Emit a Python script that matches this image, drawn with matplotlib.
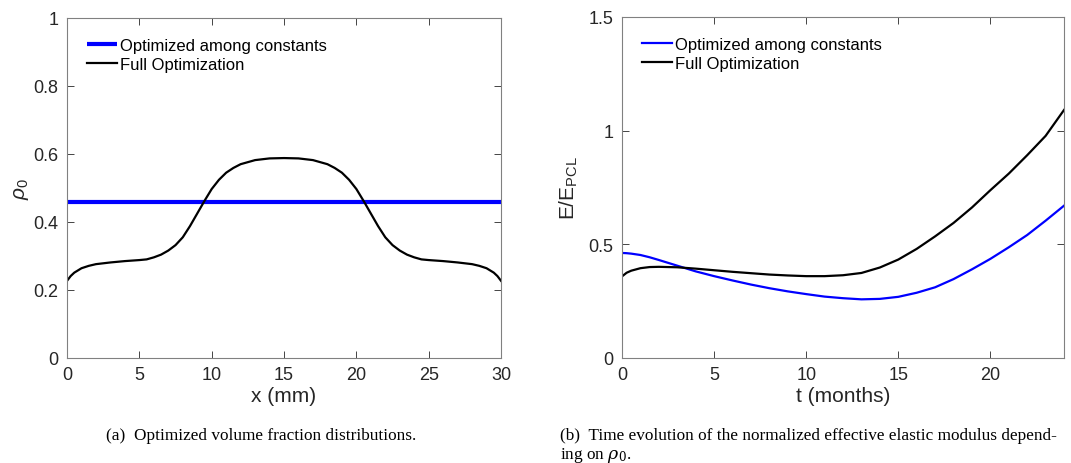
import numpy as np
import matplotlib.pyplot as plt

plt.rcParams['font.family'] = ['Liberation Sans', 'DejaVu Sans']
plt.rcParams['mathtext.fontset'] = 'custom'
plt.rcParams['mathtext.rm'] = 'Liberation Sans'
plt.rcParams['mathtext.it'] = 'Liberation Sans:italic'

# (a) volume fraction rho_0 along x (mm)
x_mm = [0, 0.25, 0.5, 1, 1.5, 2, 3, 4, 5, 5.5, 6, 6.5, 7, 7.5, 8, 8.5, 9, 9.5,
        10, 10.5, 11, 11.5, 12, 13, 14, 15, 16, 17, 18, 18.5, 19, 19.5, 20,
        20.5, 21, 21.5, 22, 22.5, 23, 23.5, 24, 24.5, 25, 26, 27, 28, 28.5,
        29, 29.5, 29.75, 30]
rho_full = [0.227, 0.241, 0.251, 0.264, 0.271, 0.276, 0.281, 0.285, 0.288,
            0.290, 0.296, 0.304, 0.316, 0.332, 0.355, 0.388, 0.425, 0.462,
            0.497, 0.524, 0.545, 0.559, 0.570, 0.582, 0.587, 0.588, 0.587,
            0.582, 0.570, 0.559, 0.545, 0.524, 0.497, 0.462, 0.425, 0.388,
            0.355, 0.332, 0.316, 0.304, 0.296, 0.290, 0.288, 0.285, 0.281,
            0.276, 0.271, 0.264, 0.251, 0.241, 0.227]
rho_const = 0.460

# (b) normalized elastic modulus over time (months)
t_months = [0, 0.25, 0.5, 1, 1.5, 2, 3, 4, 5, 6, 7, 8, 9, 10, 11, 12, 13, 14,
            15, 16, 17, 18, 19, 20, 21, 22, 23, 24]
E_const = [0.462, 0.461, 0.459, 0.453, 0.443, 0.431, 0.406, 0.381, 0.360,
           0.341, 0.323, 0.307, 0.293, 0.281, 0.270, 0.263, 0.258, 0.260,
           0.269, 0.287, 0.311, 0.347, 0.390, 0.436, 0.487, 0.541, 0.604, 0.670]
E_full = [0.359, 0.375, 0.384, 0.395, 0.400, 0.401, 0.399, 0.393, 0.386,
          0.379, 0.373, 0.367, 0.363, 0.360, 0.360, 0.364, 0.374, 0.398,
          0.433, 0.480, 0.535, 0.594, 0.662, 0.738, 0.811, 0.892, 0.977, 1.091]

AX_C = '#262626'


def style(ax):
    ax.tick_params(direction='in', top=True, right=True, labelsize=13,
                   colors=AX_C, length=5, width=0.6, pad=6)
    for s in ax.spines.values():
        s.set_color('#808080')
        s.set_linewidth(0.8)


fig = plt.figure(figsize=(10.71, 4.64), dpi=100)

ax1 = fig.add_axes([0.0626, 0.2263, 0.4052, 0.7328])
ax1.plot(x_mm, [rho_const] * len(x_mm), color='#0000ff', lw=3,
         label='Optimized among constants', solid_capstyle='butt')
ax1.plot(x_mm, rho_full, color='k', lw=1.6, label='Full Optimization')
ax1.set_xlim(0, 30)
ax1.set_ylim(0, 1)
ax1.set_xticks([0, 5, 10, 15, 20, 25, 30])
ax1.set_yticks([0, 0.2, 0.4, 0.6, 0.8, 1])
ax1.set_yticklabels(['0', '0.2', '0.4', '0.6', '0.8', '1'])
ax1.set_xlabel('x (mm)', fontsize=15, color=AX_C, labelpad=2)
ax1.set_ylabel(r'$\rho_0$', fontsize=15, color=AX_C, labelpad=2)
style(ax1)
ax1.legend(loc='upper left', frameon=False, fontsize=12, handlelength=1.8,
           handletextpad=0.15, labelspacing=0.25, borderaxespad=0.8)

ax2 = fig.add_axes([0.5808, 0.2263, 0.4127, 0.735])
ax2.plot(t_months, E_const, color='#0000ff', lw=1.6, label='Optimized among constants')
ax2.plot(t_months, E_full, color='k', lw=1.6, label='Full Optimization')
ax2.set_xlim(0, 24)
ax2.set_ylim(0, 1.5)
ax2.set_xticks([0, 5, 10, 15, 20])
ax2.set_yticks([0, 0.5, 1, 1.5])
ax2.set_yticklabels(['0', '0.5', '1', '1.5'])
ax2.set_xlabel('t (months)', fontsize=15, color=AX_C, labelpad=2)
ax2.set_ylabel(r'E/E$_{\rm PCL}$', fontsize=15, color=AX_C, labelpad=6)
style(ax2)
ax2.legend(loc='upper left', frameon=False, fontsize=12, handlelength=1.8,
           handletextpad=0.15, labelspacing=0.25, borderaxespad=0.8)

cap = dict(family=['Liberation Serif', 'DejaVu Serif'], fontsize=12.4, color='k')
fig.text(0.244, 1 - 436 / 464, '(a)  Optimized volume fraction distributions.',
         ha='center', va='center', **cap)
fig.text(0.523, 1 - 436 / 464,
         '(b)  Time evolution of the normalized effective elastic modulus depend-',
         ha='left', va='center', **cap)
fig.text(0.523, 1 - 456 / 464, r'ing on $\rho_0$.', ha='left', va='center',
         math_fontfamily='dejavuserif', **cap)

fig.savefig('out.png', dpi=100)
